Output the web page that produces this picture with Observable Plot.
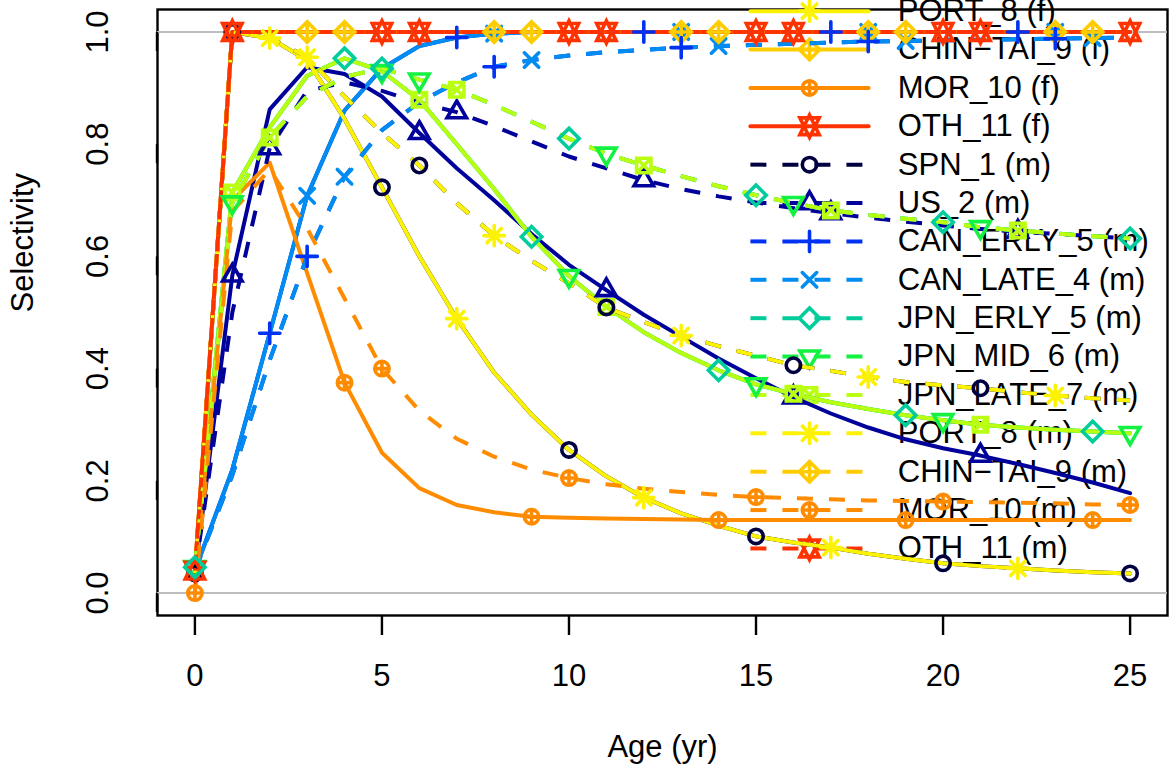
<!DOCTYPE html>
<html>
<head>
<meta charset="utf-8">
<script src="https://cdn.jsdelivr.net/npm/d3@7"></script>
<script src="https://cdn.jsdelivr.net/npm/@observablehq/plot@0.6"></script>
<style>
  html, body { margin: 0; padding: 0; background: #fff; overflow: hidden; }
</style>
</head>
<body>
<div id="chart"></div>
<script>
// ---------------- data ----------------
const ages = [0,1,2,3,4,5,6,7,8,9,10,11,12,13,14,15,16,17,18,19,20,21,22,23,24,25];

const fleets = ["SPN_1","US_2","CAN_ERLY_5","CAN_LATE_4","JPN_ERLY_5","JPN_MID_6","JPN_LATE_7","PORT_8","CHIN\u2212TAI_9","MOR_10","OTH_11"];
const fleetColors = ["#000040","#00009B","#0033F1","#008CF1","#01CC9B","#13F240","#BAFF11","#FCF203","#FFCC00","#FF8C00","#FF3300"];
const fleetPch = [1,2,3,4,5,6,7,8,9,10,11];

// selectivity-at-age curves
const selPortF = [0.035,1.0,0.989,0.95,0.845,0.723,0.60,0.489,0.393,0.318,0.255,0.208,0.17,0.142,0.12,0.101,0.09,0.081,0.07,0.061,0.053,0.048,0.044,0.04,0.037,0.035];
const selPortM = [0.035,1.0,0.99,0.955,0.885,0.82,0.762,0.695,0.637,0.592,0.552,0.509,0.483,0.459,0.44,0.423,0.406,0.396,0.385,0.376,0.37,0.365,0.358,0.352,0.347,0.343];
const selUsF   = [0.035,0.566,0.862,0.937,0.925,0.885,0.82,0.757,0.70,0.64,0.585,0.54,0.496,0.457,0.418,0.383,0.349,0.32,0.295,0.274,0.258,0.245,0.23,0.214,0.197,0.178];
const selUsM   = [0.035,0.50,0.793,0.895,0.91,0.895,0.874,0.857,0.832,0.805,0.778,0.757,0.736,0.72,0.707,0.696,0.686,0.677,0.669,0.662,0.655,0.649,0.644,0.64,0.636,0.632];
const selCanF  = [0.04,0.22,0.463,0.708,0.86,0.935,0.975,0.99,0.997,1,1,1,1,1,1,1,1,1,1,1,1,1,1,1,1,1];
const selCanM  = [0.04,0.21,0.415,0.60,0.742,0.825,0.875,0.91,0.938,0.95,0.958,0.964,0.968,0.972,0.975,0.977,0.979,0.981,0.983,0.984,0.985,0.986,0.987,0.988,0.989,0.99];
const selJpnF  = [0.046,0.714,0.83,0.922,0.953,0.93,0.879,0.80,0.72,0.635,0.565,0.51,0.465,0.428,0.397,0.372,0.355,0.34,0.328,0.317,0.308,0.30,0.295,0.291,0.288,0.285];
const selJpnM  = [0.046,0.696,0.812,0.885,0.92,0.935,0.915,0.897,0.87,0.84,0.81,0.783,0.762,0.743,0.725,0.709,0.695,0.682,0.674,0.667,0.661,0.652,0.646,0.641,0.636,0.632];
const selFull  = [0.04,1,1,1,1,1,1,1,1,1,1,1,1,1,1,1,1,1,1,1,1,1,1,1,1,1];
const selMorF  = [0.03,0.70,0.767,0.57,0.375,0.25,0.187,0.157,0.144,0.136,0.134,0.133,0.132,0.131,0.13,0.13,0.13,0.13,0.13,0.13,0.13,0.13,0.13,0.13,0.13,0.13];
const selMorM  = [0.0,0.68,0.755,0.65,0.525,0.40,0.325,0.275,0.243,0.22,0.205,0.194,0.186,0.18,0.175,0.171,0.169,0.167,0.165,0.164,0.163,0.162,0.161,0.16,0.158,0.157];

const femaleCurves = [selPortF, selUsF, selCanF, selCanF, selJpnF, selJpnF, selJpnF, selPortF, selFull, selMorF, selFull];
const maleCurves   = [selPortM, selUsM, selCanM, selCanM, selJpnM, selJpnM, selJpnM, selPortM, selFull, selMorM, selFull];

const xTicks = [0,5,10,15,20,25];
const yTicks = [0,0.2,0.4,0.6,0.8,1.0];

// ---------------- layout constants ----------------
const W = 1170, H = 769;
const LW = 4;          // line width
const PW = 3.6;        // point stroke width
const DASH = "16,16";
const FONT = 31;
// legend position in user (data) coordinates, as R's legend does
const legX1 = 14.85, legX2 = 18.01, legXm = 16.43, legXt = 18.79;
const legBottom = 0.0795, legStep = 0.0684;
const legTopLimit = 1.06; // rows above this fall outside the picture

// ---------------- R pch symbols ----------------
const S = 7.2, S2 = Math.SQRT2 * S;
const T0 = 1.5551, T1 = 1.3468, T2 = 0.7776;
const pchDraw = {
  1: c => { c.moveTo(S, 0); c.arc(0, 0, S, 0, 2 * Math.PI); },
  2: c => { const r = T0*S, xc = T1*S, yc = T2*S; c.moveTo(0,-r); c.lineTo(xc,yc); c.lineTo(-xc,yc); c.closePath(); },
  3: c => { c.moveTo(-S2,0); c.lineTo(S2,0); c.moveTo(0,-S2); c.lineTo(0,S2); },
  4: c => { c.moveTo(-S,-S); c.lineTo(S,S); c.moveTo(-S,S); c.lineTo(S,-S); },
  5: c => { c.moveTo(0,-S2); c.lineTo(S2,0); c.lineTo(0,S2); c.lineTo(-S2,0); c.closePath(); },
  6: c => { const r = T0*S, xc = T1*S, yc = T2*S; c.moveTo(0,r); c.lineTo(xc,-yc); c.lineTo(-xc,-yc); c.closePath(); },
  7: c => { c.moveTo(-S,-S); c.lineTo(S,-S); c.lineTo(S,S); c.lineTo(-S,S); c.closePath();
            c.moveTo(-S,-S); c.lineTo(S,S); c.moveTo(-S,S); c.lineTo(S,-S); },
  8: c => { c.moveTo(-S,-S); c.lineTo(S,S); c.moveTo(-S,S); c.lineTo(S,-S);
            c.moveTo(-S2,0); c.lineTo(S2,0); c.moveTo(0,-S2); c.lineTo(0,S2); },
  9: c => { c.moveTo(0,-S2); c.lineTo(S2,0); c.lineTo(0,S2); c.lineTo(-S2,0); c.closePath();
            c.moveTo(-S2,0); c.lineTo(S2,0); c.moveTo(0,-S2); c.lineTo(0,S2); },
  10: c => { c.moveTo(S,0); c.arc(0,0,S,0,2*Math.PI);
             c.moveTo(-S,0); c.lineTo(S,0); c.moveTo(0,-S); c.lineTo(0,S); },
  11: c => { const r = T0*S, yc = 0.5*(T2*S + r), xc = T1*S;
             c.moveTo(0,-r); c.lineTo(xc,yc); c.lineTo(-xc,yc); c.closePath();
             c.moveTo(0,r); c.lineTo(xc,-yc); c.lineTo(-xc,-yc); c.closePath(); }
};
const pchSymbol = p => ({ draw: (ctx) => pchDraw[p](ctx) });

// ---------------- series ----------------
const series = [];
["f","m"].forEach(sex => {
  fleets.forEach((name, i) => {
    const vals = sex === "f" ? femaleCurves[i] : maleCurves[i];
    const fleetNo = i + 1;
    const offset = sex === "f" ? (fleetNo - 1) % 5 : fleetNo % 5;
    series.push({
      label: `${name} (${sex})`,
      sex, color: fleetColors[i], pch: fleetPch[i],
      rows: ages.map((a, k) => ({age: a, sel: vals[k]})),
      pts: ages.map((a, k) => ({age: a, sel: vals[k]})).filter(d => d.age >= offset && (d.age - offset) % 5 === 0)
    });
  });
});

// legend rows (R's legend overflows above the plot; only rows that reach the picture are drawn)
const legendRows = series
  .map((s, j) => ({...s, ly: legBottom + (series.length - 1 - j) * legStep}))
  .filter(s => s.ly <= legTopLimit);

// ---------------- marks ----------------
const marks = [];
marks.push(Plot.frame({stroke: "#000", strokeWidth: 2.4}));
marks.push(Plot.ruleY([0, 1], {stroke: "#BEBEBE", strokeWidth: 2}));

// legend (drawn first, data go on top of it)
legendRows.forEach(s => {
  marks.push(Plot.line([{x: legX1, y: s.ly}, {x: legX2, y: s.ly}], {
    x: "x", y: "y", stroke: s.color, strokeWidth: LW,
    strokeDasharray: s.sex === "m" ? DASH : null,
    strokeLinecap: s.sex === "m" ? "butt" : "round"
  }));
  marks.push(Plot.dot([{x: legXm, y: s.ly}], {
    x: "x", y: "y", symbol: pchSymbol(s.pch), r: 5,
    stroke: s.color, fill: "none", strokeWidth: PW, strokeLinecap: "round"
  }));
});
marks.push(Plot.text(legendRows, {
  x: () => legXt, y: "ly", text: "label", textAnchor: "start", fontSize: FONT, fill: "#000"
}));

// curves
series.forEach(s => {
  marks.push(Plot.line(s.rows, {
    x: "age", y: "sel", stroke: s.color, strokeWidth: LW,
    strokeDasharray: s.sex === "m" ? DASH : null,
    strokeLinecap: s.sex === "m" ? "butt" : "round", strokeLinejoin: "round"
  }));
});
// points
series.forEach(s => {
  marks.push(Plot.dot(s.pts, {
    x: "age", y: "sel", symbol: pchSymbol(s.pch), r: 5,
    stroke: s.color, fill: "none", strokeWidth: PW, strokeLinecap: "round"
  }));
});

// axes
marks.push(Plot.axisX({ticks: xTicks, tickSize: 20, tickPadding: 28, fontSize: FONT, label: null, strokeWidth: 2.4, tickFormat: d => String(d)}));
marks.push(Plot.axisY({ticks: yTicks, tickSize: 19, tickPadding: 40, fontSize: FONT, label: null, strokeWidth: 2.4,
  tickFormat: d3.format(".1f"), rotate: -90, textAnchor: "middle"}));
marks.push(Plot.text(["Selectivity"], {frameAnchor: "left", dx: -134, rotate: -90, fontSize: FONT, text: d => d, fill: "#000"}));
marks.push(Plot.text(["Age (yr)"], {frameAnchor: "bottom", dy: 141, fontSize: FONT, text: d => d, fill: "#000"}));

const chart = Plot.plot({
  width: W, height: H,
  marginLeft: 157, marginRight: 3, marginTop: 9, marginBottom: 154,
  x: {domain: [-1, 26]},
  y: {domain: [-0.04, 1.04]},
  style: {fontFamily: "'Liberation Sans', Arial, Helvetica, sans-serif", fontSize: FONT + "px", background: "#fff", color: "#000"},
  marks
});
document.getElementById("chart").appendChild(chart);
</script>
</body>
</html>
